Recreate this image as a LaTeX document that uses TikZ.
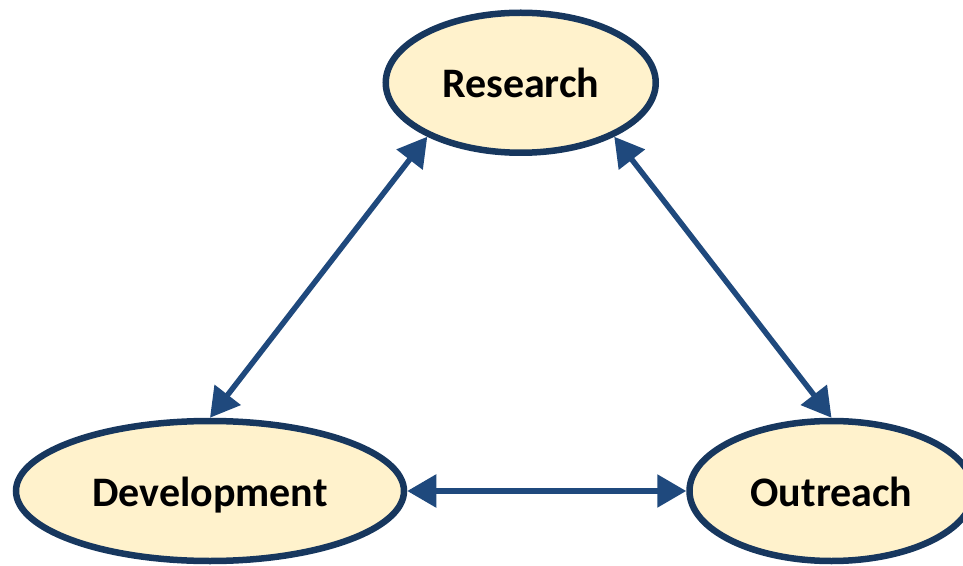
\documentclass[tikz,border=0pt]{standalone}
\usepackage{fontspec}
\setmainfont{Carlito}
\usetikzlibrary{
  arrows.meta,
  calc,
  positioning,
  shapes.geometric,
}
\definecolor{topicfill}{HTML}{FFF2CC}
\definecolor{topicline}{HTML}{17375E}
\definecolor{linkblue}{HTML}{1F497D}
\tikzset{
  >={Triangle[length=29pt, width=32pt]},
}

\begin{document}
\begin{tikzpicture}[
      x=1pt, y=1pt,
      topic/.style={ellipse, draw=topicline, fill=topicfill, line width=6.5pt,
                    minimum height=140pt, text height=34pt, text depth=4pt,
                    font=\fontsize{42}{50}\selectfont\bfseries},
      link/.style={<->, draw=linkblue, line width=5.5pt},
    ]
      \useasboundingbox (-210,-74) rectangle (753,491);
      \node [topic, minimum width=388pt] (development) {Development};
      \node [topic, minimum width=284pt, right=279pt of development] (outreach) {Outreach};
      \coordinate (base) at ($(development)!0.5!(outreach)$);
      \node [topic, minimum width=270pt, above=335pt of base] (research) {Research};
      \draw [link] (research.-150) -- (development.north);
      \draw [link] (research.-30) -- (outreach.north);
      \draw [link] (development.east) -- (outreach.west);
    \end{tikzpicture}
\end{document}
